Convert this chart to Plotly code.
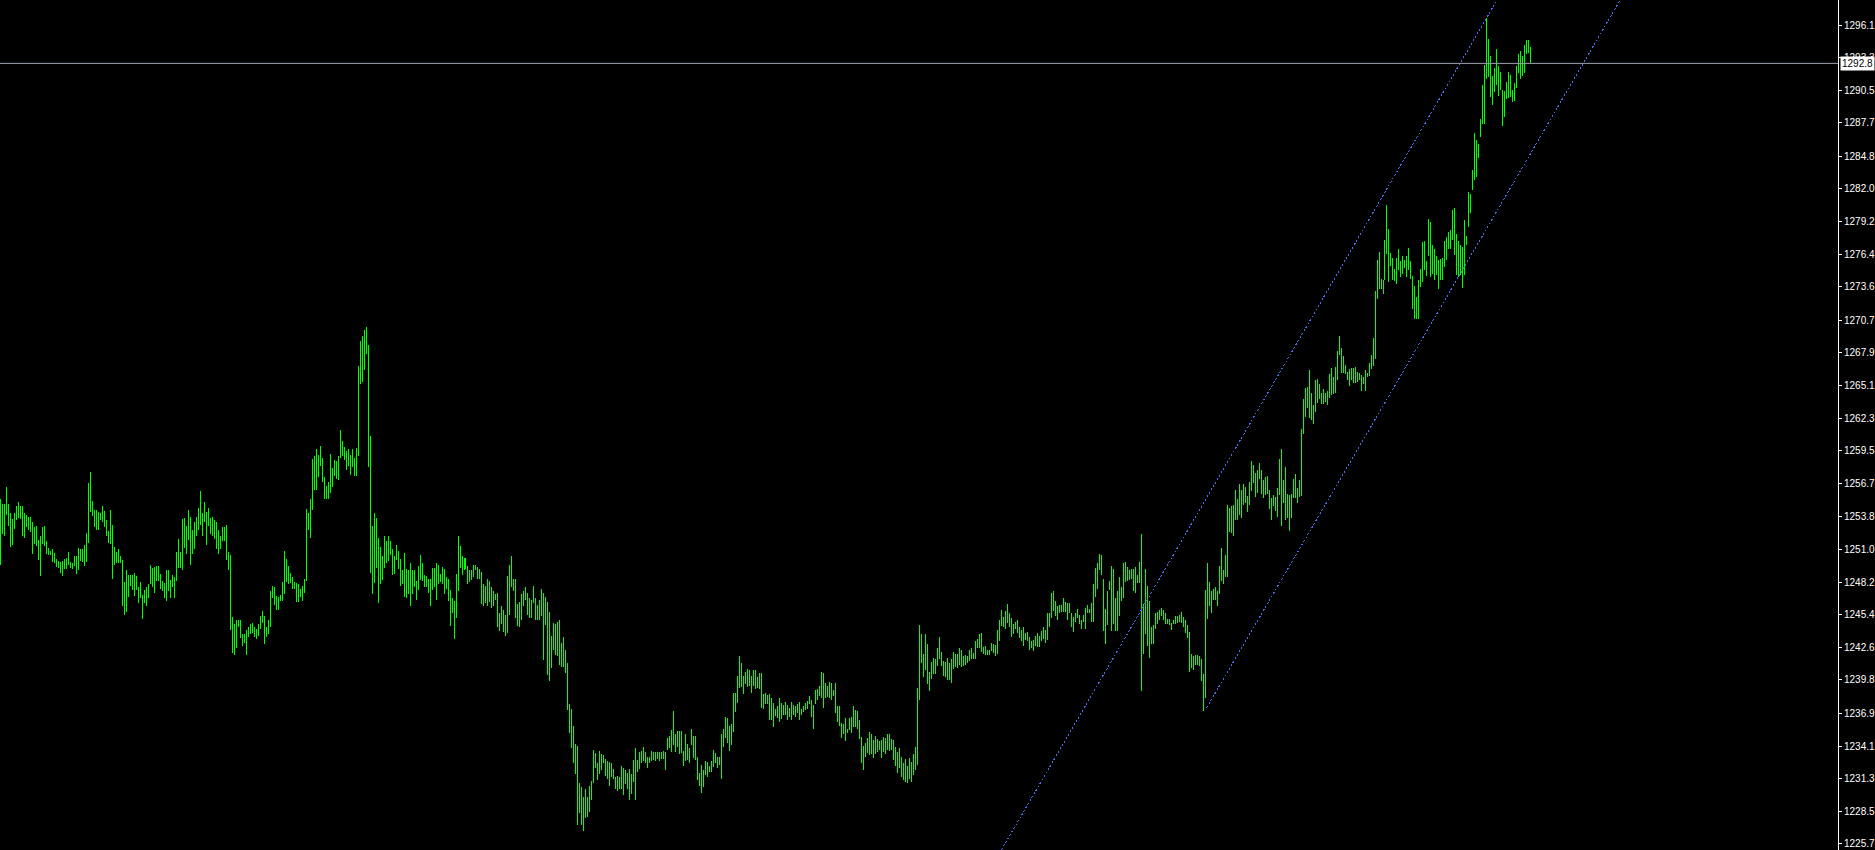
import plotly.graph_objects as go

# bar highs / lows, read left to right off the chart (one bar every 2 px)
highs_a = [
    1255.3, 1254.9, 1254.9, 1256.4, 1254.9, 1254.1, 1253.6, 1254.1, 1254.7, 1255.1,
    1254.7, 1254.7, 1254.1, 1254.0, 1253.8, 1253.8, 1253.4, 1252.9, 1253.0, 1251.8,
    1252.2, 1252.9, 1253.0, 1251.7, 1251.1, 1250.9, 1251.0, 1250.7, 1250.2, 1250.0,
    1249.9, 1250.0, 1250.2, 1250.3, 1250.8, 1249.9, 1249.8, 1250.4, 1250.4, 1251.1,
    1251.0, 1251.0, 1251.4, 1252.4, 1256.7, 1257.7, 1255.2, 1254.4, 1254.4, 1254.2,
    1254.1, 1254.7, 1254.3, 1253.5, 1252.6, 1254.4, 1253.1, 1251.2, 1250.8, 1251.0,
    1250.4, 1250.1, 1248.2, 1249.2, 1248.8, 1248.8, 1248.8, 1249.0, 1248.7, 1247.8,
    1248.2, 1247.1, 1247.5, 1247.8, 1248.0, 1249.7, 1249.4, 1249.5, 1249.6, 1249.6,
    1248.9, 1248.3, 1248.1, 1249.2, 1249.2, 1248.4, 1248.8, 1248.6, 1250.8, 1251.9,
    1250.8, 1253.6, 1253.7, 1253.0, 1254.4, 1253.8, 1252.7, 1253.4, 1253.8, 1254.6,
    1256.0, 1254.1, 1255.1, 1254.2, 1254.6, 1253.7, 1253.8, 1253.5, 1253.4, 1252.7,
    1252.2, 1252.9, 1252.9, 1253.1, 1250.8, 1250.5, 1245.2, 1244.6, 1244.9, 1244.9,
    1244.9, 1243.7, 1243.7, 1244.1, 1244.3, 1244.6, 1244.7, 1244.3, 1244.2, 1244.6,
    1245.3, 1245.7, 1245.3, 1244.3, 1244.9, 1247.4, 1247.9, 1247.8, 1247.0, 1246.9,
    1247.1, 1248.2, 1250.9, 1250.2, 1249.6, 1249.0, 1248.6, 1248.2, 1248.1, 1248.0,
    1247.6, 1247.9, 1248.5, 1254.5, 1254.1, 1255.3, 1258.8, 1259.0, 1259.6, 1259.1,
    1259.9, 1258.9, 1257.2, 1256.5, 1256.8,
]
lows_a = [
    1249.7, 1252.3, 1252.2, 1254.0, 1253.0, 1251.2, 1251.4, 1252.8, 1253.5, 1253.7,
    1253.6, 1252.2, 1252.0, 1252.9, 1252.7, 1252.5, 1250.6, 1251.5, 1251.3, 1250.1,
    1248.7, 1251.5, 1251.3, 1250.6, 1250.5, 1250.5, 1249.9, 1249.8, 1249.5, 1249.4,
    1249.0, 1248.7, 1249.3, 1249.3, 1249.7, 1249.4, 1249.3, 1249.6, 1248.9, 1249.2,
    1250.0, 1249.9, 1249.6, 1249.9, 1251.6, 1254.2, 1253.9, 1252.9, 1252.7, 1252.7,
    1253.5, 1253.4, 1252.9, 1252.2, 1251.6, 1251.5, 1248.5, 1249.7, 1249.8, 1249.8,
    1249.8, 1246.1, 1245.4, 1245.6, 1246.9, 1247.9, 1247.5, 1247.0, 1247.5, 1246.4,
    1246.8, 1245.0, 1246.4, 1246.1, 1246.8, 1248.0, 1247.8, 1247.3, 1248.3, 1248.3,
    1247.6, 1247.4, 1246.8, 1246.6, 1247.4, 1246.8, 1247.8, 1246.8, 1248.3, 1249.4,
    1249.4, 1249.2, 1251.1, 1250.6, 1251.8, 1249.7, 1250.6, 1251.0, 1252.2, 1252.7,
    1253.1, 1252.2, 1253.4, 1251.4, 1253.0, 1252.3, 1252.2, 1251.9, 1251.0, 1250.6,
    1251.0, 1251.7, 1251.7, 1250.1, 1249.2, 1244.1, 1242.1, 1241.9, 1242.5, 1244.3,
    1243.4, 1242.7, 1243.0, 1241.9, 1243.5, 1243.7, 1243.8, 1243.5, 1243.3, 1243.6,
    1244.2, 1244.7, 1242.9, 1243.5, 1243.7, 1244.3, 1246.8, 1246.2, 1245.8, 1245.8,
    1246.6, 1246.6, 1247.2, 1248.2, 1248.0, 1248.1, 1247.6, 1247.6, 1246.5, 1246.5,
    1246.9, 1246.6, 1247.3, 1248.3, 1252.7, 1252.0, 1254.4, 1256.1, 1256.1, 1257.2,
    1258.2, 1256.8, 1255.3, 1255.3, 1255.3,
]

highs_b = [
    1259.2, 1258.0, 1258.7, 1258.6, 1259.0, 1261.3, 1260.3, 1259.8, 1259.5, 1259.6,
    1259.1, 1259.6, 1258.9, 1259.7, 1266.8, 1268.9, 1269.4, 1269.9, 1270.1, 1268.6,
    1260.8, 1253.0, 1254.1, 1253.7, 1252.0, 1251.2, 1250.4, 1252.2, 1251.7, 1252.2,
    1251.7, 1251.0, 1250.4, 1251.4, 1250.9, 1250.2, 1249.2, 1250.7, 1249.3, 1249.2,
    1249.8, 1249.2, 1249.2, 1248.3, 1249.6, 1250.5, 1249.8, 1248.8, 1248.7, 1248.5,
    1248.5, 1249.4, 1249.4, 1249.8, 1249.7, 1248.9, 1249.5, 1249.3, 1248.6, 1248.5,
    1247.5, 1246.8, 1246.6, 1248.9, 1252.2, 1251.3, 1250.4, 1250.3, 1250.3, 1249.6,
    1249.2, 1249.2, 1249.7, 1249.7, 1249.5, 1249.3, 1249.1, 1248.0, 1247.9, 1248.5,
    1248.3, 1247.8, 1247.4, 1247.2, 1247.3, 1245.5, 1246.1, 1245.8, 1245.4, 1248.7,
    1249.7, 1250.4, 1248.5, 1248.5, 1246.3, 1246.5, 1247.2, 1247.4, 1247.8, 1247.3,
    1246.8, 1246.7, 1247.9, 1246.8, 1246.2, 1246.7, 1247.6, 1247.3, 1246.9, 1246.5,
    1245.6, 1243.6, 1244.7, 1244.6, 1244.8, 1244.9, 1243.0,
]
lows_b = [
    1255.9, 1256.4, 1257.3, 1257.1, 1257.0, 1258.9, 1259.0, 1258.7, 1257.8, 1258.2,
    1257.4, 1258.1, 1257.3, 1257.3, 1259.0, 1265.2, 1265.4, 1266.4, 1267.8, 1258.1,
    1249.0, 1247.2, 1248.1, 1249.4, 1246.4, 1248.0, 1248.4, 1249.4, 1249.8, 1250.0,
    1250.5, 1248.8, 1248.9, 1250.1, 1249.3, 1247.9, 1248.0, 1246.9, 1246.8, 1247.2,
    1246.1, 1247.2, 1247.8, 1246.7, 1247.5, 1248.4, 1248.3, 1247.8, 1247.8, 1247.3,
    1246.1, 1247.5, 1247.8, 1246.7, 1248.0, 1248.2, 1248.0, 1247.2, 1247.6, 1246.6,
    1244.4, 1245.5, 1243.3, 1245.1, 1247.4, 1249.4, 1248.8, 1249.2, 1249.3, 1248.0,
    1248.2, 1248.4, 1248.6, 1249.2, 1248.5, 1248.5, 1246.3, 1246.1, 1246.4, 1246.1,
    1246.5, 1246.0, 1246.1, 1246.7, 1244.3, 1244.0, 1244.6, 1243.9, 1243.6, 1243.8,
    1245.4, 1247.8, 1247.4, 1245.1, 1244.4, 1244.3, 1244.9, 1246.1, 1246.7, 1245.4,
    1245.1, 1245.1, 1246.4, 1244.9, 1244.9, 1244.9, 1245.3, 1241.5, 1244.5, 1240.2,
    1239.7, 1240.8, 1242.4, 1241.9, 1241.8, 1241.1, 1240.9,
]

highs_c = [
    1243.5, 1242.4, 1241.2, 1237.7, 1237.3, 1235.8, 1234.3, 1234.1, 1230.9, 1230.6,
    1229.7, 1230.4, 1229.7, 1230.7, 1231.1, 1233.8, 1233.5, 1232.6, 1233.7, 1233.4,
    1233.3, 1233.0, 1232.8, 1232.7, 1232.6, 1232.1, 1231.4, 1231.5, 1231.4, 1232.4,
    1232.2, 1232.0, 1231.8, 1232.1, 1231.7, 1232.9, 1233.9, 1232.9, 1233.6, 1233.7,
    1234.0, 1233.6, 1233.2, 1233.2, 1233.7, 1233.6, 1233.6, 1233.6, 1233.6, 1233.6,
    1233.7, 1233.6, 1234.8, 1235.0, 1235.5, 1237.1, 1235.1, 1235.4, 1235.4, 1235.4,
    1233.7, 1235.1, 1234.3, 1233.9, 1235.6, 1235.0, 1235.0, 1233.2, 1231.8, 1232.5,
    1232.0, 1232.8, 1232.7, 1232.4, 1232.8, 1233.8, 1233.5, 1233.2, 1233.2, 1235.1,
    1235.6, 1236.6, 1236.5, 1235.8, 1236.0, 1238.7, 1238.7, 1240.1, 1241.8, 1241.2,
    1240.1, 1240.5, 1240.7, 1240.6, 1240.1, 1240.6, 1240.6, 1240.0, 1240.4, 1240.4,
    1238.6, 1238.7, 1238.5, 1238.6, 1238.2, 1237.8, 1237.3, 1237.5, 1238.2, 1237.8,
    1237.6, 1237.9, 1237.6, 1237.4, 1237.9, 1237.6,
    1237.5, 1237.7, 1237.9, 1237.3, 1237.5, 1237.8, 1238.0, 1238.4, 1238.1, 1237.6,
    1238.9, 1239.0, 1239.3, 1240.5, 1240.4, 1239.5, 1239.3, 1239.6, 1239.5, 1238.9,
    1239.5, 1237.5, 1237.5, 1236.1, 1236.0, 1236.5, 1235.6, 1236.5, 1236.6, 1237.5,
    1237.2, 1237.1, 1236.3, 1234.9, 1234.1, 1234.4, 1234.8, 1235.3, 1235.1, 1234.6,
    1235.0, 1234.7, 1234.5, 1234.6, 1234.9, 1234.8, 1235.1, 1235.1, 1234.7,
    1234.6, 1234.0, 1233.6, 1233.9, 1233.2, 1232.6, 1233.0, 1232.4, 1233.1, 1232.7,
    1233.4, 1234.0,
]
lows_c = [
    1240.9, 1240.4, 1237.2, 1235.2, 1233.9, 1232.6, 1231.7, 1227.3, 1228.3, 1227.3,
    1226.8, 1227.9, 1228.0, 1228.4, 1229.5, 1230.9, 1232.2, 1231.2, 1231.7, 1232.0,
    1232.6, 1231.5, 1231.3, 1230.7, 1231.4, 1231.3, 1230.4, 1230.2, 1230.4, 1230.4,
    1229.9, 1230.8, 1230.4, 1229.5, 1230.0, 1231.0, 1229.5, 1231.9, 1232.1, 1232.6,
    1232.8, 1232.6, 1232.2, 1232.6, 1232.8, 1232.9, 1232.8, 1233.0, 1232.8, 1233.0,
    1233.0, 1232.0, 1233.8, 1233.9, 1233.6, 1234.2, 1233.6, 1234.0, 1233.4, 1233.5,
    1232.4, 1232.8, 1232.9, 1232.6, 1234.2, 1233.1, 1232.9, 1231.2, 1230.7, 1230.1,
    1230.6, 1231.6, 1231.4, 1231.9, 1231.9, 1232.3, 1232.6, 1232.2, 1232.5, 1231.3,
    1234.0, 1234.8, 1234.4, 1233.7, 1234.2, 1235.3, 1237.0, 1237.8, 1239.1, 1239.2,
    1238.6, 1239.4, 1239.2, 1239.3, 1238.7, 1239.3, 1239.0, 1239.1, 1239.0, 1237.4,
    1237.3, 1237.7, 1237.7, 1236.3, 1236.3, 1235.7, 1236.7, 1236.5, 1236.2, 1236.4,
    1236.8, 1236.8, 1236.3, 1236.6, 1236.3, 1236.8,
    1236.6, 1236.9, 1236.3, 1236.8, 1237.0, 1237.2, 1237.3, 1237.7, 1236.6, 1235.6,
    1237.7, 1238.1, 1238.4, 1238.2, 1237.4, 1238.2, 1238.3, 1238.2, 1238.1, 1238.4,
    1236.9, 1236.2, 1235.8, 1234.8, 1235.1, 1234.5, 1235.2, 1235.5, 1235.2, 1235.7,
    1235.7, 1235.6, 1234.7, 1232.6, 1232.0, 1233.2, 1233.5, 1233.3, 1233.4, 1233.1,
    1233.4, 1233.6, 1233.8, 1233.1, 1233.6, 1233.4, 1233.8, 1233.7, 1233.8,
    1232.9, 1232.4, 1231.8, 1232.2, 1231.4, 1231.2, 1231.0, 1230.9, 1231.3, 1231.0,
    1231.6, 1232.0,
]

highs_d = [
    1239.1, 1244.5, 1243.7, 1242.0, 1243.7, 1242.9, 1240.5, 1241.3, 1241.7, 1241.6,
    1242.5, 1243.5, 1242.2, 1241.4, 1241.3, 1241.7, 1241.2, 1241.6, 1242.2, 1242.0,
    1242.0, 1242.5, 1242.4, 1241.8, 1241.9, 1241.8, 1242.4, 1242.5, 1242.1, 1243.1,
    1243.3, 1243.7, 1243.8, 1242.6, 1242.7, 1242.4, 1242.4, 1243.0, 1242.9, 1242.8,
    1244.1, 1244.9, 1245.8, 1245.2, 1245.7, 1246.3, 1245.5, 1245.1, 1244.6, 1244.8,
    1244.9, 1244.3, 1244.1, 1244.3, 1243.8, 1243.9, 1243.5, 1243.1, 1243.2, 1243.6,
    1243.8, 1243.6, 1244.0, 1244.3, 1244.1, 1245.5, 1245.5, 1247.3, 1247.4, 1246.6,
    1246.1, 1246.2, 1246.2, 1246.8, 1246.5, 1246.4, 1246.4, 1245.5, 1245.2, 1245.5,
    1245.9, 1245.4, 1244.9, 1245.4, 1246.0, 1246.2, 1245.9, 1246.4, 1248.0, 1249.4,
    1249.8, 1250.6, 1250.5, 1248.5, 1245.9, 1247.4, 1248.3, 1249.6, 1249.3, 1246.8,
    1247.4, 1248.6, 1247.8, 1249.8, 1249.9, 1249.5, 1249.2, 1249.3, 1249.3, 1249.5,
    1248.8, 1249.9, 1252.3, 1246.3, 1249.3, 1247.9, 1246.6, 1244.3, 1244.5, 1245.5,
    1245.6, 1245.8, 1246.0, 1245.8, 1245.5, 1245.0, 1245.0, 1244.7, 1244.9, 1245.3,
    1245.3, 1245.4, 1245.6, 1245.2, 1244.9, 1244.5, 1243.9, 1242.0, 1241.8, 1241.9,
    1241.9, 1241.8, 1241.6, 1240.3, 1247.5,
]
lows_d = [
    1232.5, 1238.1, 1241.2, 1240.0, 1240.6, 1239.4, 1238.8, 1239.9, 1240.3, 1240.3,
    1241.0, 1241.6, 1241.0, 1240.1, 1240.0, 1239.8, 1239.8, 1239.5, 1240.7, 1240.9,
    1240.8, 1241.1, 1240.9, 1241.0, 1241.1, 1241.2, 1241.4, 1241.6, 1241.6, 1241.6,
    1242.5, 1242.5, 1242.2, 1242.0, 1241.9, 1241.9, 1241.9, 1242.3, 1242.1, 1241.8,
    1242.0, 1243.1, 1244.4, 1244.3, 1244.2, 1244.7, 1244.3, 1243.5, 1243.7, 1244.2,
    1243.8, 1243.4, 1243.1, 1242.7, 1243.2, 1243.1, 1242.4, 1242.5, 1242.3, 1242.7,
    1242.6, 1242.6, 1243.1, 1243.3, 1243.0, 1243.2, 1244.3, 1245.1, 1245.7, 1245.3,
    1244.9, 1245.5, 1245.6, 1245.6, 1245.6, 1244.9, 1245.5, 1244.3, 1243.9, 1244.8,
    1245.1, 1244.6, 1244.2, 1244.8, 1244.2, 1245.5, 1245.5, 1244.8, 1244.8, 1246.9,
    1247.6, 1249.2, 1248.8, 1244.0, 1242.9, 1244.5, 1247.5, 1244.0, 1244.6, 1244.0,
    1244.0, 1245.3, 1246.6, 1246.8, 1248.2, 1248.3, 1248.4, 1248.5, 1247.4, 1247.3,
    1248.1, 1248.1, 1238.8, 1242.0, 1243.7, 1242.7, 1241.7, 1242.9, 1242.9, 1244.2,
    1244.6, 1244.9, 1245.3, 1244.9, 1244.6, 1244.6, 1244.5, 1244.1, 1244.6, 1244.6,
    1244.7, 1244.8, 1244.7, 1244.3, 1243.8, 1243.4, 1240.5, 1240.8, 1240.6, 1241.1,
    1241.1, 1241.0, 1239.7, 1237.1, 1238.2,
]

highs_e = [
    1249.8, 1248.2, 1247.4, 1247.6, 1247.8, 1247.4, 1249.6, 1251.1, 1249.2, 1250.5,
    1254.8, 1254.6, 1254.7, 1254.8, 1256.1, 1255.3, 1256.6, 1256.1, 1256.6, 1256.4,
    1255.6, 1256.8, 1258.6, 1258.3, 1257.6, 1257.8, 1258.4, 1257.8, 1257.0, 1257.2,
    1257.3, 1256.1, 1255.4, 1255.7, 1255.5, 1256.3, 1258.8, 1259.6, 1257.0, 1258.1,
    1255.8, 1255.7, 1255.8, 1257.1, 1257.5, 1256.3, 1257.0, 1261.4, 1263.9, 1264.9,
    1265.0, 1266.4, 1264.5, 1263.4, 1265.6, 1265.7, 1265.2, 1264.5, 1264.8, 1264.5,
    1264.6, 1266.1, 1266.6, 1265.8, 1266.7, 1268.1, 1269.4, 1268.3, 1267.6, 1266.9,
    1266.3, 1266.5, 1266.6, 1266.6, 1266.7, 1266.3, 1266.2, 1266.0, 1265.8, 1266.4,
    1266.2, 1267.0, 1267.7, 1269.2,
]
lows_e = [
    1245.0, 1246.1, 1245.5, 1246.7, 1246.7, 1246.1, 1247.2, 1248.3, 1248.0, 1248.6,
    1248.6, 1252.5, 1252.4, 1252.2, 1253.5, 1253.5, 1254.0, 1253.7, 1254.8, 1255.0,
    1254.2, 1254.8, 1256.0, 1256.7, 1255.5, 1255.9, 1257.1, 1255.8, 1255.4, 1255.7,
    1255.8, 1254.5, 1253.5, 1254.7, 1254.3, 1253.8, 1255.7, 1253.0, 1255.0, 1253.5,
    1253.7, 1252.6, 1253.7, 1255.4, 1255.4, 1255.0, 1255.5, 1255.6, 1260.9, 1262.4,
    1263.2, 1262.3, 1262.1, 1261.8, 1262.8, 1263.6, 1263.9, 1263.5, 1263.5, 1263.7,
    1263.4, 1264.0, 1264.3, 1264.4, 1264.5, 1265.6, 1267.7, 1266.2, 1266.2, 1266.1,
    1265.6, 1265.1, 1265.6, 1265.3, 1265.3, 1265.4, 1265.6, 1264.6, 1265.2, 1264.6,
    1265.8, 1265.9, 1266.5, 1266.8,
]

highs_f = [
    1273.2, 1275.9, 1276.6, 1274.3, 1274.2, 1277.6, 1280.6, 1278.6, 1276.5, 1276.1,
    1275.1, 1276.1, 1276.8, 1275.8, 1276.2, 1275.9, 1276.2, 1276.9, 1275.8, 1274.5,
    1273.7, 1272.7, 1274.2, 1275.1, 1277.4, 1277.5, 1275.8, 1279.4, 1279.2, 1277.2,
    1276.8, 1276.2, 1275.9, 1276.0, 1276.1, 1277.5, 1277.9, 1278.3, 1278.5, 1280.2,
    1280.4, 1278.1, 1277.5, 1277.2, 1277.0, 1279.3, 1278.0, 1281.7, 1281.6, 1283.6,
    1286.8, 1286.2, 1285.9, 1288.0, 1290.9, 1292.7, 1296.7, 1294.9, 1293.4, 1291.7,
    1292.4, 1294.0, 1292.6, 1292.1, 1290.5, 1290.4, 1291.2, 1292.1, 1291.8, 1290.5,
    1291.1, 1292.6, 1293.6, 1293.9, 1293.4, 1294.4, 1294.8, 1294.8, 1294.2,
]
lows_f = [
    1267.4, 1272.5, 1273.4, 1273.4, 1273.0, 1274.2, 1276.4, 1274.0, 1275.4, 1274.2,
    1274.1, 1273.8, 1275.0, 1274.4, 1274.7, 1275.2, 1274.4, 1275.0, 1274.3, 1271.7,
    1270.8, 1270.8, 1270.8, 1273.6, 1274.0, 1275.0, 1274.5, 1276.2, 1274.4, 1274.7,
    1274.2, 1274.6, 1273.4, 1274.2, 1274.2, 1275.3, 1275.9, 1276.8, 1276.8, 1277.6,
    1276.3, 1274.6, 1274.4, 1274.6, 1273.5, 1274.6, 1277.2, 1278.7, 1279.9, 1281.9,
    1282.8, 1283.0, 1284.7, 1286.5, 1287.6, 1287.6, 1291.5, 1291.6, 1289.9, 1289.2,
    1290.3, 1290.9, 1290.0, 1290.5, 1287.4, 1288.2, 1289.7, 1289.8, 1289.9, 1289.5,
    1289.6, 1290.7, 1292.0, 1291.5, 1291.7, 1292.0, 1293.6, 1293.7, 1292.8,
]

last_price = 1292.8

# channel drawn on the chart: (bar index, price) end points
channel_upper_x = [498.0, 755.0]
channel_upper_y = [1224.3, 1300.0]
channel_lower_x = [603.75, 816.7]
channel_lower_y = [1237.4, 1300.0]

price_ticks = [
    1296.1, 1293.3, 1290.5, 1287.7, 1284.8, 1282.0, 1279.2, 1276.4, 1273.6,
    1270.7, 1267.9, 1265.1, 1262.3, 1259.5, 1256.7, 1253.8, 1251.0, 1248.2,
    1245.4, 1242.6, 1239.8, 1236.9, 1234.1, 1231.3, 1228.5, 1225.7,
]

highs = highs_a + highs_b + highs_c + highs_d + highs_e + highs_f
lows = lows_a + lows_b + lows_c + lows_d + lows_e + lows_f

# one vertical segment per bar, gaps between them
bar_x, bar_y = [], []
for i, (hi, lo) in enumerate(zip(highs, lows)):
    bar_x += [i, i, None]
    bar_y += [lo, hi, None]

fig = go.Figure()

fig.add_trace(
    go.Scatter(
        x=bar_x,
        y=bar_y,
        mode="lines",
        line=dict(color="#00FF00", width=1),
        hoverinfo="skip",
        showlegend=False,
    )
)

for cx, cy in ((channel_upper_x, channel_upper_y), (channel_lower_x, channel_lower_y)):
    fig.add_trace(
        go.Scatter(
            x=cx,
            y=cy,
            mode="lines",
            line=dict(color="#4A6CF0", width=1, dash="2px,2px"),
            hoverinfo="skip",
            showlegend=False,
        )
    )

fig.add_shape(
    type="line",
    xref="paper",
    x0=0,
    x1=1,
    yref="y",
    y0=last_price,
    y1=last_price,
    line=dict(color="#9BA3AD", width=1),
)

fig.add_annotation(
    x=1,
    xref="paper",
    xanchor="left",
    xshift=2,
    y=last_price,
    yref="y",
    text=f"{last_price:.1f}",
    showarrow=False,
    bgcolor="white",
    borderpad=1,
    font=dict(color="black", size=10, family="Liberation Sans"),
)

fig.update_layout(
    width=1875,
    height=850,
    margin=dict(l=0, r=35, t=0, b=0, pad=0),
    paper_bgcolor="black",
    plot_bgcolor="black",
    showlegend=False,
    hovermode=False,
    font=dict(family="Liberation Sans", size=10, color="white"),
    xaxis=dict(
        range=[-0.25, 919.75],
        visible=False,
        fixedrange=True,
    ),
    yaxis=dict(
        range=[1225.16, 1298.25],
        side="right",
        showgrid=False,
        zeroline=False,
        showline=True,
        linecolor="white",
        linewidth=1,
        ticks="outside",
        ticklen=3,
        tickcolor="white",
        tickvals=price_ticks,
        ticktext=[f"{v:.1f}" for v in price_ticks],
        tickfont=dict(color="white", size=10, family="Liberation Sans"),
        fixedrange=True,
    ),
)

# pixel-crisp strokes like the terminal draws them
post = (
    "document.body.style.margin='0';"
    "document.body.style.overflow='hidden';"
    "document.querySelectorAll('.scatterlayer path').forEach(function(p){"
    "p.style.shapeRendering='crispEdges';});"
)

fig.write_html("out.html", config={"displayModeBar": False}, post_script=post)
